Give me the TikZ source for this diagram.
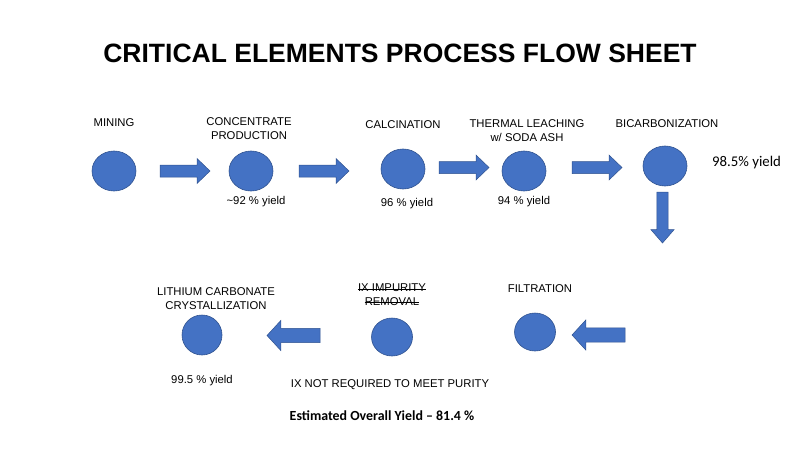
\documentclass[tikz,border=0pt]{standalone}
\usepackage{fontspec}
\setmainfont{Liberation Sans}
\newfontfamily\calib{Carlito}
\usetikzlibrary{positioning}
\definecolor{stagefill}{RGB}{68,114,196}
\definecolor{stageline}{RGB}{47,82,143}
\tikzset{
  stage/.style={fill=stagefill,draw=stageline,line width=0.6pt},
  lbl/.style={align=center,inner sep=0pt,font=\fontsize{11.3}{13.5}\selectfont},
  flowarrow/.pic={
    \filldraw[fill=stagefill,draw=stageline,line width=0.5pt]
      (-25,-6) -- (12,-6) -- (12,-12.5) -- (25,0) -- (12,12.5) -- (12,6) -- (-25,6) -- cycle;
  }
}
\begin{document}
\begin{tikzpicture}[x=1pt,y=-1pt]
		\useasboundingbox (0,0) rectangle (800,450);
		\node[font=\bfseries\fontsize{26.5}{30}\selectfont] (title) at (400,53) {CRITICAL ELEMENTS PROCESS FLOW SHEET};
		% top row
		\coordinate (mining) at (114,171);
		\coordinate (conc) at (251,171);
		\coordinate (calc) at (403,169);
		\coordinate (leach) at (524,171);
		\coordinate (bicarb) at (665,166);
		\foreach \p in {mining,conc,calc,leach,bicarb}
			\path[stage] (\p) ellipse [x radius=22,y radius=20];
		\pic at (185,171) {flowarrow};
		\pic at (324,171) {flowarrow};
		\pic at (464,167.5) {flowarrow};
		\pic at (597,167.5) {flowarrow};
		\pic[rotate=-90,xscale=1.02,yscale=0.92] at (662.5,217.5) {flowarrow};
		\node[lbl] at (114,123) {MINING};
		\node[lbl] at (249,128.5) {CONCENTRATE\\PRODUCTION};
		\node[lbl] at (403,125) {CALCINATION};
		\node[lbl] at (527,130.5) {THERMAL LEACHING\\w/ SODA ASH};
		\node[lbl] at (667,124) {BICARBONIZATION};
		\node[lbl] at (256,202) {\textasciitilde92 \% yield};
		\node[lbl] at (407,204) {96 \% yield};
		\node[lbl] at (524,202) {94 \% yield};
		\node[lbl,font=\calib\fontsize{14.8}{17}\selectfont,anchor=west] at (712,163) {98.5\% yield};
		% bottom row
		\coordinate (filt) at (535,332);
		\coordinate (ixrem) at (392,337);
		\coordinate (crys) at (202,335);
		\path[stage] (filt) ellipse [x radius=20.5,y radius=19];
		\path[stage] (ixrem) ellipse [x radius=20.5,y radius=19];
		\path[stage] (crys) ellipse [x radius=20,y radius=20];
		\pic[rotate=180,xscale=1.06,yscale=1.2] at (598.5,335) {flowarrow};
		\pic[rotate=180,xscale=1.06,yscale=1.2] at (293.5,335.5) {flowarrow};
		\node[lbl] at (540,289) {FILTRATION};
		\node[lbl] (ix1) at (392,288) {IX IMPURITY};
		\node[lbl] (ix2) at (392,301.5) {REMOVAL};
		\draw[line width=0.6pt] (ix1.mid west) -- (ix1.mid east);
		\draw[line width=0.6pt] (ix2.mid west) -- (ix2.mid east);
		\node[lbl] at (216,298.5) {LITHIUM CARBONATE\\CRYSTALLIZATION};
		\node[lbl] at (202,381) {99.5 \% yield};
		\node[lbl] at (390,385) {IX NOT REQUIRED TO MEET PURITY};
		\node[lbl,font=\calib\bfseries\fontsize{13.9}{16}\selectfont] at (382,416) {Estimated Overall Yield \textendash{} 81.4 \%};
	\end{tikzpicture}
\end{document}
